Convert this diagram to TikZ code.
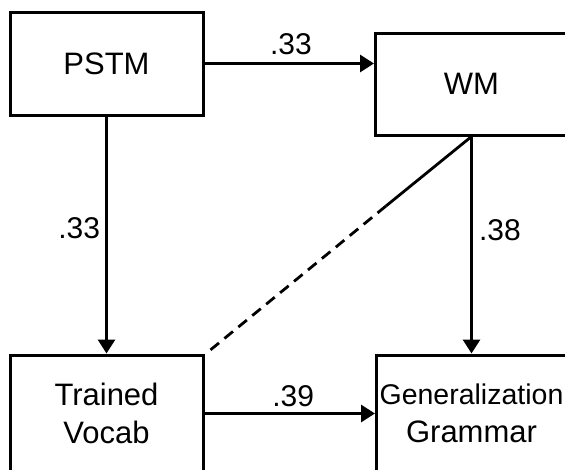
\documentclass[tikz,border=0pt]{standalone}
\usepackage{fontspec}
\setmainfont{Liberation Sans}
\usetikzlibrary{arrows.meta,calc}

\begin{document}
\begin{tikzpicture}
[x=1pt,y=-1pt,
  darkArrow/.style={-{Triangle[length=14pt,width=17pt]},line width=3pt},%
  dashLine/.style={line width=2.8pt,dash pattern=on 11pt off 7pt},%
  nodeDecorate/.style={shape=rectangle,draw,line width=3pt,inner sep=0pt,
    align=center,font=\fontsize{31}{37.5}\selectfont},%
  weight/.style={inner sep=0pt,font=\fontsize{30}{34}\selectfont}]
\useasboundingbox (0,0) rectangle (565,469);
%% boxes
\foreach \nodename/\x/\y/\w/\h/\txt in {PSTM/106.5/63.5/193/103/PSTM,
  WM/471.5/84/192/102/WM, TV/106.5/413.5/193/117/Trained\\Vocab,
  GG/471.5/413.5/190/117/{{\fontsize{28.5}{37.5}\selectfont Generalization}\\Grammar}}
{
  \node (\nodename) at (\x,\y) [nodeDecorate,minimum width=\w pt,minimum height=\h pt] {\txt};
}
%% paths with weights
\path
  (PSTM.east) edge[darkArrow] node[weight,above=7pt,pos=0.51] {.33} (PSTM.east -| WM.west)
  (PSTM.south) edge[darkArrow] node[weight,left=5pt,pos=0.47] {.33} (TV.north)
  (WM.south) edge[darkArrow] node[weight,right=6pt,pos=0.43] {.38} (GG.north)
  (TV.east) edge[darkArrow] node[weight,above=5pt,pos=0.52] {.39} (GG.west);
%% correlation line
\coordinate (split) at ($(WM.south)!0.32!(TV.north east)$);
\draw[line width=2.8pt] (WM.south) -- (split);
\draw[dashLine] (split) -- ([xshift=4pt,yshift=2pt]TV.north east);
\end{tikzpicture}
\end{document}
